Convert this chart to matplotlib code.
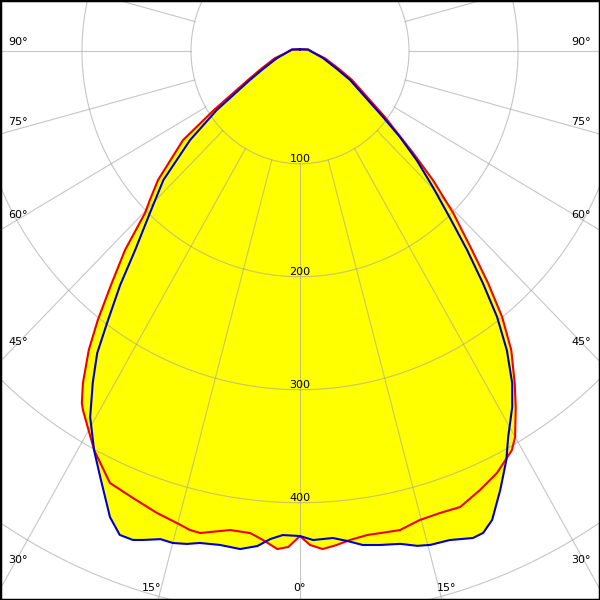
import numpy as np
import matplotlib.pyplot as plt

# luminous intensity (cd), gamma in degrees, negative = left half
blue_angles = [-180, -120, -98, -90, -79.7, -72.5, -64.5, -60.6, -55.5, -51.9,
               -47.6, -43.8, -40.6, -38.5, -36.3, -34.8, -32.9, -30.7, -28.1, -25.9,
               -22.9, -21.1, -19.5, -18.4, -16.5, -15.0, -13.4, -11.9, -9.5, -7.1,
               -5.1, -3.6, -2.1, 0, 1.6, 4.0, 5.7, 7.5, 9.5, 11.9,
               13.8, 15.3, 17.6, 20.2, 21.5, 23.0, 25.3, 27.6, 29.2, 31.7,
               33.5, 35.6, 37.5, 39.2, 41.0, 42.9, 45.3, 47.8, 50.2, 52.4,
               60.6, 64.5, 72.9, 79.7, 90, 98, 120, 180]
blue_values = [1.2, 2.4, 7.4, 9.2, 14, 22.4, 37.6, 52.7, 92.7, 128.2,
               169.7, 198.9, 232.4, 265, 299, 326, 350, 377, 401, 419.5,
               448, 459.3, 459.3, 456.3, 450.8, 451, 448.7, 445.2, 443.5, 444.4,
               440.1, 433, 428.9, 429.5, 433.2, 432.3, 436, 441.2, 443.5, 446,
               451.2, 453.4, 454.3, 459.5, 458.6, 451.1, 429.9, 408.6, 391.5, 370.5,
               352.6, 326, 297, 265.4, 233.6, 202.2, 171.5, 145, 119.4, 96.1,
               52.7, 37.6, 22.1, 14, 9.2, 7.4, 2.4, 1.2]

red_angles = [-180, -120, -98, -90, -80, -73.9, -65.7, -61.5, -56.4, -53.6,
              -48.7, -46.2, -44.7, -42.3, -39.9, -37.9, -36.2, -34.1, -32.7, -32.05,
              -28.1, -24.5, -21.2, -17.8, -15.1, -13.4, -12.1, -8.6, -6.1, -4.5,
              -2.7, -1.4, 0, 1.2, 2.7, 4.4, 6.05, 8.2, 10.6, 12.2,
              14.8, 17.4, 20.0, 23.0, 25.8, 28.8, 30.0, 32.1, 33.8, 36.2,
              38.2, 40.0, 41.8, 44.4, 46.8, 48.9, 53.0, 61.5, 65.7, 73.7,
              80, 90, 98, 120, 180]
red_values = [1.2, 2.4, 7.6, 9.4, 14.5, 24.2, 39.3, 54.3, 94.8, 133.3,
              173.4, 190.8, 202.1, 238.5, 270.3, 301.9, 328, 355.2, 370.4, 375.2,
              400.8, 420.4, 424.4, 429.6, 433, 436, 436.5, 429, 429.3, 434.3,
              441.5, 439.3, 429.5, 437.5, 441.5, 438.7, 435.4, 433, 433.4, 434,
              429.6, 428.8, 429.7, 422.4, 415.1, 403.4, 394.7, 372.4, 354.1, 328.1,
              299.8, 268.4, 236.7, 200.8, 167.3, 137.6, 97.6, 54.3, 39.3, 23.9,
              14.5, 9.4, 7.6, 2.4, 1.2]

ring_values = [100, 200, 300, 400, 500, 600]
ring_labels = ["100", "200", "300", "400"]
spoke_angles = np.arange(-180, 180, 15)
angle_labels = ["90°", "75°", "60°", "45°", "30°"]
bottom_labels = ["15°", "0°", "15°"]


def to_xy(angles, values):
    g = np.radians(angles)
    v = np.asarray(values, dtype=float)
    return v * np.sin(g), -v * np.cos(g)


fig = plt.figure(figsize=(6, 6), dpi=100)
ax = fig.add_axes([0, 0, 1, 1])
ax.set_xlim(-275.2, 275.2)
ax.set_ylim(-486.1, 44.9)

grid_kw = dict(color="#a0a0a0", alpha=0.6, lw=0.8, zorder=2)
t = np.linspace(0, 2 * np.pi, 721)
for r in ring_values:
    ax.plot(r * np.sin(t), -r * np.cos(t), **grid_kw)
for a in spoke_angles:
    xs, ys = to_xy([a, a], [100, 800])
    ax.plot(xs, ys, **grid_kw)

bx, by = to_xy(blue_angles, blue_values)
rx, ry = to_xy(red_angles, red_values)
ax.fill(bx, by, color="#ffff00", lw=0, zorder=1)
ax.fill(rx, ry, color="#ffff00", lw=0, zorder=1)
ax.plot(rx, ry, color="#ee0000", lw=1.5, zorder=3)
ax.plot(bx, by, color="#0000c8", lw=1.5, zorder=4)

for r, lab in zip(ring_values, ring_labels):
    ax.text(0, -r + 4.5, lab, ha="center", va="center", fontsize=8, zorder=5)

# angle labels in figure pixels
label_y = [42, 122, 215, 342, 560]
for lab, py in zip(angle_labels, label_y):
    fig.text(18 / 600, 1 - py / 600, lab, ha="center", va="center", fontsize=8)
    fig.text(581 / 600, 1 - py / 600, lab, ha="center", va="center", fontsize=8)
for lab, px in zip(bottom_labels, [152, 299, 447]):
    fig.text(px / 600, 1 - 588 / 600, lab, ha="center", va="center", fontsize=8)

ax.set_xticks([])
ax.set_yticks([])
for s in ax.spines.values():
    s.set_linewidth(2.5)
    s.set_color("black")

fig.savefig("out.png", dpi=100)
